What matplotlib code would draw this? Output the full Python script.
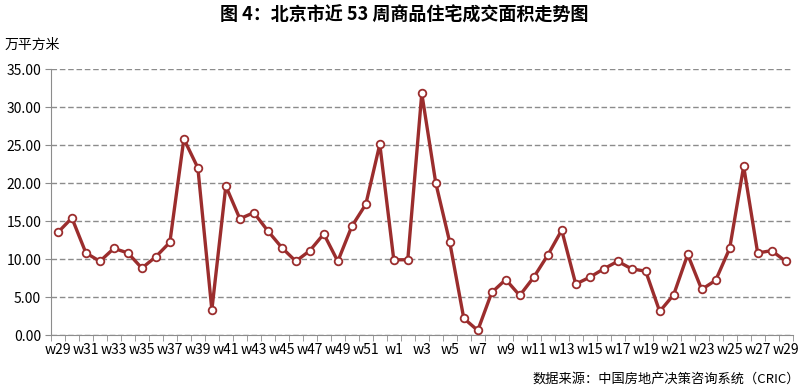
import matplotlib
matplotlib.use("Agg")
import matplotlib.pyplot as plt
import numpy as np

plt.rcParams["font.family"] = ["Noto Sans CJK SC", "DejaVu Sans"]

weeks = [f"w{i}" for i in range(29, 53)] + [f"w{i}" for i in range(1, 30)]
area = [13.5, 15.4, 10.8, 9.7, 11.4, 10.8, 8.8, 10.3, 12.2, 25.8,
        22.0, 3.3, 19.6, 15.3, 16.1, 13.7, 11.5, 9.7, 11.1, 13.3,
        9.7, 14.3, 17.2, 25.1, 9.9, 9.9, 31.8, 20.0, 12.2, 2.2,
        0.6, 5.6, 7.3, 5.2, 7.6, 10.5, 13.8, 6.7, 7.6, 8.7,
        9.7, 8.7, 8.4, 3.1, 5.3, 10.6, 6.0, 7.2, 11.4, 22.2,
        10.8, 11.1, 9.7]
yticks = np.arange(0, 35.01, 5)

line_color = "#9B2D2D"
grid_color = "#8C8C8C"

fig = plt.figure(figsize=(8.08, 3.90), dpi=100)
ax = fig.add_axes([0.063, 0.141, 0.918, 0.682])

x = np.arange(len(weeks))
ax.plot(x, area, color=line_color, lw=2.4, marker="o", ms=5.5,
        mfc="white", mec=line_color, mew=1.3, zorder=3)

ax.set_xlim(-0.5, len(weeks) - 0.5)
ax.set_ylim(0, 35)
ax.set_yticks(yticks)
ax.set_yticklabels([f"{v:.2f}" for v in yticks], fontsize=10)
ax.yaxis.grid(True, ls=(0, (4, 2)), color=grid_color, lw=1)
ax.set_axisbelow(True)

ax.set_xticks(x[::2])
ax.set_xticklabels(weeks[::2], fontsize=10)
ax.set_xticks(np.arange(-0.5, len(weeks), 1), minor=True)
ax.tick_params(axis="x", which="major", length=0, pad=6)
ax.tick_params(axis="x", which="minor", length=4, color=grid_color, direction="out")
ax.tick_params(axis="y", length=4, color=grid_color, pad=3)

for side in ("top", "right"):
    ax.spines[side].set_visible(False)
for side in ("left", "bottom"):
    ax.spines[side].set_color(grid_color)

fig.text(0.5, 0.96, "图 4：北京市近 53 周商品住宅成交面积走势图", ha="center", va="center",
         fontsize=13, fontweight="bold")
fig.text(0.005, 0.885, "万平方米", ha="left", va="center", fontsize=10)
fig.text(0.99, 0.028, "数据来源：中国房地产决策咨询系统（CRIC）", ha="right", va="center",
         fontsize=9.5)

fig.savefig("out.png", dpi=100)
